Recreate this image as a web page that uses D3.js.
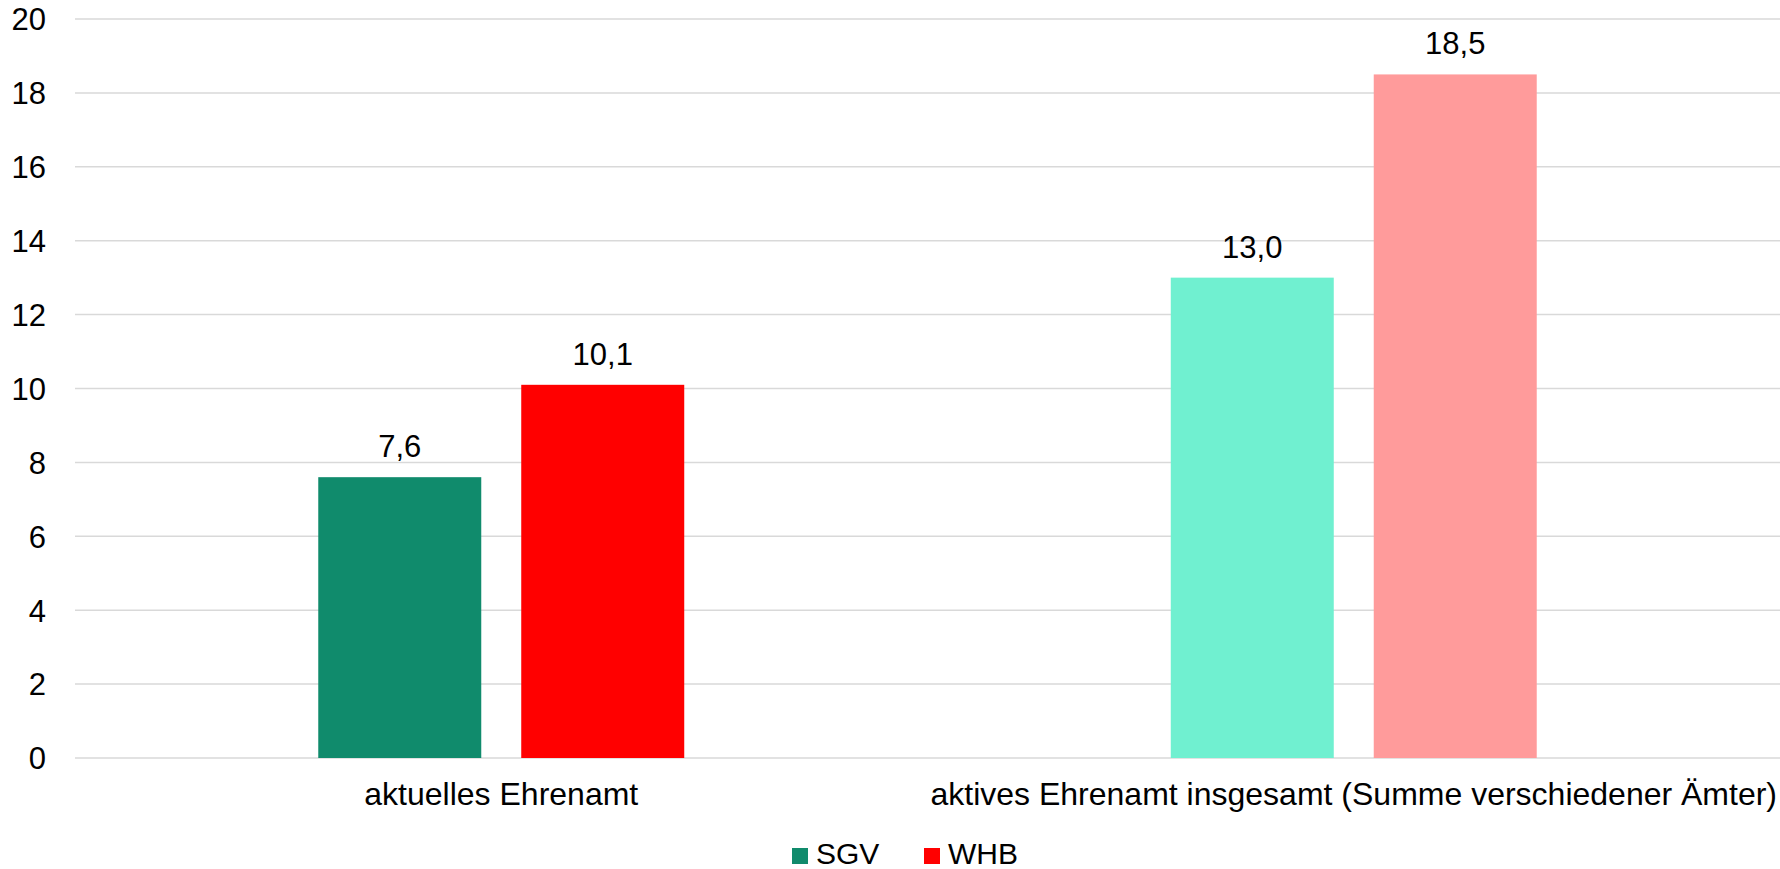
<!DOCTYPE html>
<html>
<head>
<meta charset="utf-8">
<script src="https://cdn.jsdelivr.net/npm/d3@7"></script>
<style>
  body { margin: 0; background: #fff; }
  text { font-family: "Liberation Sans", Arial, sans-serif; fill: #000; }
</style>
</head>
<body>
<svg id="chart" width="1780" height="869"></svg>
<script>
// chart data
var categories = ["aktuelles Ehrenamt", "aktives Ehrenamt insgesamt (Summe verschiedener Ämter)"];
var seriesNames = ["SGV", "WHB"];
var sgvValues = [7.6, 13.0];
var whbValues = [10.1, 18.5];
var yTicks = [0, 2, 4, 6, 8, 10, 12, 14, 16, 18, 20];
// bar colours per category (second group is drawn lighter)
var sgvColors = ["#108B6C", "#70F0D0"];
var whbColors = ["#FF0000", "#FF9B9B"];
var legendColors = ["#108B6C", "#FF0000"];

var svg = d3.select("#chart");
var margin = {left: 75, right: 0, top: 19, bottom: 111};
var width = 1780, height = 869;

var yScale = d3.scaleLinear()
    .domain([0, 20])
    .range([height - margin.bottom, margin.top]);

var x0 = d3.scaleBand()
    .domain(categories)
    .range([margin.left, width - margin.right])
    .paddingInner(0.5707)
    .paddingOuter(0.5707 / 2);

var x1 = d3.scaleBand()
    .domain(seriesNames)
    .range([0, x0.bandwidth()])
    .paddingInner(0.197)
    .paddingOuter(0);

// gridlines
svg.append("g")
    .selectAll("line")
    .data(yTicks)
    .enter().append("line")
    .attr("x1", margin.left)
    .attr("x2", width - margin.right)
    .attr("y1", function(d) { return yScale(d); })
    .attr("y2", function(d) { return yScale(d); })
    .attr("stroke", "#D9D9D9")
    .attr("stroke-width", 1.5);

// y axis labels, no line
var yAxis = d3.axisLeft(yScale).tickValues(yTicks).tickSize(0).tickPadding(0);
var yg = svg.append("g")
    .attr("transform", "translate(46,0)")
    .call(yAxis);
yg.select(".domain").remove();
yg.selectAll("text")
    .attr("font-size", "31px")
    .attr("font-family", "Liberation Sans, Arial, sans-serif")
    .attr("fill", "#000")
    .attr("dy", "0.35em");

// x category labels
var xAxis = d3.axisBottom(x0).tickSize(0).tickPadding(0);
var xg = svg.append("g")
    .attr("transform", "translate(0," + yScale(0) + ")")
    .call(xAxis);
xg.select(".domain").remove();
xg.selectAll("text")
    .attr("font-size", "32px")
    .attr("font-family", "Liberation Sans, Arial, sans-serif")
    .attr("fill", "#000")
    .attr("dy", null)
    .attr("y", 47);

// build rows
var rows = categories.map(function(c, i) {
    return [
        {cat: c, series: "SGV", value: sgvValues[i], color: sgvColors[i]},
        {cat: c, series: "WHB", value: whbValues[i], color: whbColors[i]}
    ];
});
var flat = [].concat.apply([], rows);

var bars = svg.append("g");
bars.selectAll("rect")
    .data(flat)
    .enter().append("rect")
    .attr("x", function(d) { return x0(d.cat) + x1(d.series); })
    .attr("y", function(d) { return yScale(d.value); })
    .attr("width", x1.bandwidth())
    .attr("height", function(d) { return yScale(0) - yScale(d.value); })
    .attr("fill", function(d) { return d.color; });

// value labels
var fmt = function(v) { return d3.format(".1f")(v).replace(".", ","); };
bars.selectAll("text")
    .data(flat)
    .enter().append("text")
    .attr("x", function(d) { return x0(d.cat) + x1(d.series) + x1.bandwidth() / 2; })
    .attr("y", function(d) { return yScale(d.value) - 20; })
    .attr("text-anchor", "middle")
    .attr("font-size", "31px")
    .text(function(d) { return fmt(d.value); });

// legend
var legendX = [792, 924];
var legend = svg.append("g");
seriesNames.forEach(function(name, i) {
    legend.append("rect")
        .attr("x", legendX[i])
        .attr("y", 848)
        .attr("width", 16)
        .attr("height", 16)
        .attr("fill", legendColors[i]);
    legend.append("text")
        .attr("x", legendX[i] + 24)
        .attr("y", 864)
        .attr("font-size", "30px")
        .text(name);
});
</script>
</body>
</html>
